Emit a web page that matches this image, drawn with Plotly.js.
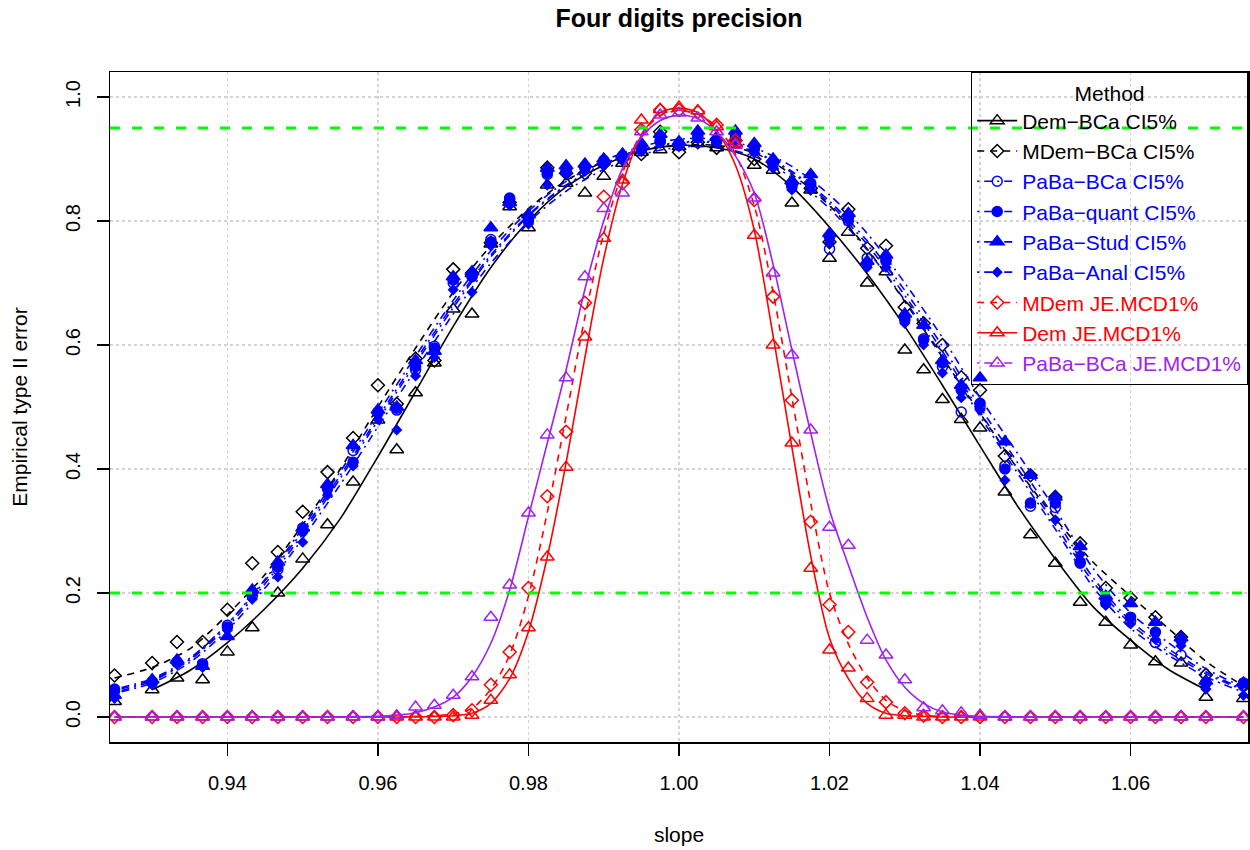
<!DOCTYPE html>
<html>
<head>
<meta charset="utf-8">
<script src="https://cdn.plot.ly/plotly-3.0.1.min.js"></script>
<style>html,body{margin:0;padding:0;background:#fff;}#chart{width:1250px;height:850px;}</style>
</head>
<body>
<div id="chart"></div>
<script>
// ---------- data ----------
const slope = [0.925, 0.93, 0.9333, 0.9367, 0.94, 0.9433, 0.9467, 0.95, 0.9533, 0.9567,
  0.96, 0.9625, 0.965, 0.9675, 0.97, 0.9725, 0.975, 0.9775, 0.98, 0.9825,
  0.985, 0.9875, 0.99, 0.9925, 0.995, 0.9975, 1.0, 1.0025, 1.005, 1.0075,
  1.01, 1.0125, 1.015, 1.0175, 1.02, 1.0225, 1.025, 1.0275, 1.03, 1.0325,
  1.035, 1.0375, 1.04, 1.0433, 1.0467, 1.05, 1.0533, 1.0567, 1.06, 1.0633,
  1.0667, 1.07, 1.075];

const demBCa = [0.025, 0.044, 0.063, 0.060, 0.105, 0.144, 0.200, 0.255, 0.310, 0.379,
  0.479, 0.431, 0.523, 0.571, 0.658, 0.650, 0.763, 0.823, 0.789, 0.858,
  0.861, 0.845, 0.872, 0.893, 0.911, 0.915, 0.920, 0.925, 0.918, 0.925,
  0.890, 0.882, 0.829, 0.850, 0.740, 0.782, 0.700, 0.718, 0.592, 0.560,
  0.512, 0.480, 0.466, 0.363, 0.294, 0.248, 0.185, 0.153, 0.116, 0.089,
  0.087, 0.032, 0.030];

const mdemBCa = [0.067, 0.087, 0.121, 0.121, 0.173, 0.248, 0.266, 0.331, 0.395, 0.450,
  0.535, 0.505, 0.578, 0.575, 0.722, 0.716, 0.765, 0.830, 0.808, 0.886,
  0.877, 0.877, 0.892, 0.900, 0.908, 0.944, 0.911, 0.927, 0.918, 0.930,
  0.900, 0.895, 0.861, 0.853, 0.766, 0.819, 0.756, 0.760, 0.661, 0.635,
  0.600, 0.548, 0.527, 0.421, 0.390, 0.355, 0.280, 0.208, 0.192, 0.161,
  0.129, 0.068, 0.052];

const pabaBCa = [0.042, 0.055, 0.088, 0.086, 0.148, 0.195, 0.238, 0.305, 0.368, 0.430,
  0.490, 0.495, 0.560, 0.598, 0.700, 0.712, 0.770, 0.835, 0.805, 0.875,
  0.880, 0.885, 0.895, 0.905, 0.915, 0.928, 0.922, 0.935, 0.928, 0.935,
  0.915, 0.890, 0.855, 0.858, 0.755, 0.800, 0.740, 0.735, 0.640, 0.610,
  0.565, 0.492, 0.500, 0.405, 0.340, 0.338, 0.250, 0.190, 0.155, 0.120,
  0.100, 0.055, 0.050];

const pabaQuant = [0.045, 0.057, 0.089, 0.084, 0.145, 0.200, 0.242, 0.300, 0.371, 0.411,
  0.492, 0.498, 0.565, 0.595, 0.705, 0.710, 0.766, 0.837, 0.800, 0.877,
  0.882, 0.887, 0.898, 0.903, 0.919, 0.930, 0.925, 0.939, 0.930, 0.939,
  0.919, 0.893, 0.858, 0.861, 0.774, 0.806, 0.732, 0.737, 0.644, 0.608,
  0.571, 0.527, 0.506, 0.400, 0.345, 0.345, 0.248, 0.184, 0.161, 0.137,
  0.124, 0.055, 0.055];

const pabaStud = [0.035, 0.060, 0.092, 0.082, 0.130, 0.205, 0.250, 0.305, 0.375, 0.438,
  0.495, 0.500, 0.575, 0.590, 0.710, 0.718, 0.789, 0.830, 0.810, 0.885,
  0.889, 0.892, 0.900, 0.908, 0.925, 0.940, 0.928, 0.945, 0.935, 0.945,
  0.925, 0.900, 0.865, 0.875, 0.780, 0.812, 0.735, 0.745, 0.650, 0.632,
  0.575, 0.535, 0.547, 0.444, 0.390, 0.355, 0.275, 0.195, 0.183, 0.153,
  0.128, 0.058, 0.055];

const pabaAnal = [0.030, 0.052, 0.085, 0.080, 0.140, 0.190, 0.226, 0.282, 0.358, 0.405,
  0.480, 0.463, 0.550, 0.580, 0.689, 0.685, 0.760, 0.825, 0.795, 0.858,
  0.875, 0.880, 0.890, 0.898, 0.912, 0.925, 0.920, 0.932, 0.925, 0.930,
  0.910, 0.885, 0.850, 0.850, 0.765, 0.800, 0.725, 0.725, 0.635, 0.600,
  0.555, 0.515, 0.495, 0.382, 0.345, 0.318, 0.262, 0.180, 0.150, 0.125,
  0.115, 0.045, 0.035];

const mdemJE = [0, 0, 0, 0, 0, 0, 0, 0, 0, 0,
  0, 0, 0, 0, 0.003, 0.011, 0.052, 0.105, 0.208, 0.356,
  0.460, 0.668, 0.839, 0.861, 0.947, 0.979, 0.979, 0.976, 0.955, 0.930,
  0.834, 0.678, 0.511, 0.315, 0.181, 0.137, 0.056, 0.024, 0.006, 0.002,
  0, 0, 0, 0, 0, 0, 0, 0, 0, 0,
  0, 0, 0];

const demJE = [0, 0, 0, 0, 0, 0, 0, 0, 0, 0,
  0, 0, 0, 0, 0, 0.003, 0.027, 0.068, 0.144, 0.258,
  0.403, 0.613, 0.772, 0.866, 0.963, 0.980, 0.984, 0.978, 0.952, 0.925,
  0.777, 0.600, 0.442, 0.240, 0.108, 0.079, 0.030, 0.003, 0.003, 0,
  0, 0, 0, 0, 0, 0, 0, 0, 0, 0,
  0, 0, 0];

const pabaJE = [0, 0, 0, 0, 0, 0, 0, 0, 0, 0,
  0, 0.002, 0.016, 0.019, 0.035, 0.065, 0.161, 0.213, 0.329, 0.455,
  0.547, 0.710, 0.820, 0.845, 0.944, 0.971, 0.974, 0.966, 0.944, 0.922,
  0.837, 0.716, 0.584, 0.463, 0.306, 0.277, 0.124, 0.100, 0.060, 0.015,
  0.010, 0.007, 0.003, 0, 0, 0, 0, 0, 0, 0,
  0, 0, 0];

// fitted (smooth) curves
const fitX = [0.925, 0.93, 0.935, 0.94, 0.945, 0.95, 0.955, 0.96, 0.965, 0.97,
  0.975, 0.98, 0.985, 0.99, 0.995, 1.0, 1.005, 1.01, 1.015, 1.02,
  1.025, 1.03, 1.035, 1.04, 1.045, 1.05, 1.055, 1.06, 1.065, 1.07, 1.075];
const demBCaFit = [null, 0.044, 0.075, 0.12, 0.175, 0.24, 0.32, 0.42, 0.525, 0.63,
  0.725, 0.80, 0.855, 0.89, 0.913, 0.922, 0.918, 0.90, 0.855, 0.79,
  0.715, 0.63, 0.535, 0.437, 0.34, 0.255, 0.178, 0.124, 0.077, 0.044, null];
const mdemBCaFit = [0.063, 0.08, 0.11, 0.165, 0.23, 0.31, 0.40, 0.50, 0.595, 0.685,
  0.76, 0.82, 0.865, 0.895, 0.915, 0.922, 0.922, 0.91, 0.875, 0.825,
  0.755, 0.67, 0.58, 0.49, 0.40, 0.32, 0.25, 0.195, 0.143, 0.09, 0.05];
const pabaBCaFit = [0.045, 0.062, 0.095, 0.15, 0.22, 0.30, 0.39, 0.483, 0.575, 0.665,
  0.745, 0.81, 0.858, 0.892, 0.915, 0.927, 0.927, 0.912, 0.88, 0.832,
  0.768, 0.688, 0.598, 0.50, 0.41, 0.32, 0.225, 0.155, 0.11, 0.073, 0.045];
const pabaQuantFit = [0.043, 0.06, 0.092, 0.146, 0.215, 0.295, 0.385, 0.478, 0.57, 0.66,
  0.742, 0.808, 0.857, 0.891, 0.914, 0.926, 0.926, 0.911, 0.878, 0.828,
  0.762, 0.68, 0.59, 0.492, 0.40, 0.31, 0.218, 0.15, 0.105, 0.07, 0.043];
const pabaStudFit = [0.04, 0.058, 0.093, 0.15, 0.222, 0.305, 0.396, 0.49, 0.582, 0.672,
  0.752, 0.816, 0.864, 0.897, 0.92, 0.932, 0.932, 0.918, 0.888, 0.842,
  0.78, 0.70, 0.612, 0.515, 0.425, 0.335, 0.24, 0.168, 0.12, 0.078, 0.048];
const pabaAnalFit = [0.038, 0.055, 0.088, 0.14, 0.208, 0.288, 0.375, 0.468, 0.56, 0.65,
  0.732, 0.798, 0.848, 0.883, 0.907, 0.919, 0.919, 0.904, 0.87, 0.82,
  0.753, 0.672, 0.582, 0.485, 0.393, 0.303, 0.21, 0.143, 0.1, 0.065, 0.04];

const jeFitX = [0.925, 0.95, 0.96, 0.9625, 0.965, 0.9675, 0.97, 0.9725, 0.975, 0.9775,
  0.98, 0.9825, 0.985, 0.9875, 0.99, 0.9925, 0.995, 0.9975, 1.0, 1.0025,
  1.005, 1.0075, 1.01, 1.0125, 1.015, 1.0175, 1.02, 1.0225, 1.025, 1.0275,
  1.03, 1.0325, 1.035, 1.0375, 1.04, 1.05, 1.075];
const mdemJEFit = [0, 0, 0, 0, 0.001, 0.002, 0.005, 0.014, 0.045, 0.1,
  0.195, 0.33, 0.485, 0.645, 0.78, 0.878, 0.94, 0.97, 0.978, 0.972,
  0.952, 0.908, 0.825, 0.685, 0.515, 0.345, 0.2, 0.118, 0.063, 0.027,
  0.01, 0.003, 0.001, 0, 0, 0, 0];
const demJEFit = [0, 0, 0, 0, 0, 0.001, 0.002, 0.006, 0.022, 0.062,
  0.138, 0.258, 0.41, 0.58, 0.74, 0.86, 0.938, 0.975, 0.982, 0.975,
  0.945, 0.89, 0.785, 0.615, 0.435, 0.26, 0.127, 0.062, 0.022, 0.006,
  0.002, 0.001, 0, 0, 0, 0, 0];
const pabaJEFit = [0, 0, 0.001, 0.003, 0.007, 0.016, 0.032, 0.065, 0.119, 0.205,
  0.323, 0.442, 0.56, 0.69, 0.80, 0.885, 0.935, 0.962, 0.971, 0.965,
  0.944, 0.905, 0.845, 0.73, 0.592, 0.458, 0.334, 0.245, 0.161, 0.092,
  0.048, 0.022, 0.008, 0.003, 0.001, 0, 0];

const refLines = [0.95, 0.2];
const xTickVals = [0.94, 0.96, 0.98, 1.00, 1.02, 1.04, 1.06];
const xTickText = ['0.94', '0.96', '0.98', '1.00', '1.02', '1.04', '1.06'];
const yTickVals = [0, 0.2, 0.4, 0.6, 0.8, 1.0];
const yTickText = ['0.0', '0.2', '0.4', '0.6', '0.8', '1.0'];

const methodNames = ['Dem\u2212BCa CI5%', 'MDem\u2212BCa CI5%', 'PaBa\u2212BCa CI5%', 'PaBa\u2212quant CI5%',
  'PaBa\u2212Stud CI5%', 'PaBa\u2212Anal CI5%', 'MDem JE.MCD1%', 'Dem JE.MCD1%', 'PaBa\u2212BCa JE.MCD1%'];

// ---------- styles ----------
const FONT = 'Liberation Sans, Arial, Helvetica, sans-serif';
const BLACK = '#000000', BLUE = '#0000FF', RED = '#FF0000', PURPLE = '#A020F0', GREEN = '#00FF00';
const DASH = '7px,6px';
const DOTDASH = '2px,5px,8px,5px';

const series = [
  {name: methodNames[0], color: BLACK, pts: demBCa, fx: fitX, fy: demBCaFit, dash: 'solid', legDash: 'solid', sym: 'triangle-up-open', size: 12},
  {name: methodNames[1], color: BLACK, pts: mdemBCa, fx: fitX, fy: mdemBCaFit, dash: DASH, legDash: DASH, sym: 'diamond-open', size: 10},
  {name: methodNames[2], color: BLUE, pts: pabaBCa, fx: fitX, fy: pabaBCaFit, dash: DOTDASH, legDash: DOTDASH, sym: 'circle-open', size: 10},
  {name: methodNames[3], color: BLUE, pts: pabaQuant, fx: fitX, fy: pabaQuantFit, dash: DOTDASH, legDash: DOTDASH, sym: 'circle', size: 10},
  {name: methodNames[4], color: BLUE, pts: pabaStud, fx: fitX, fy: pabaStudFit, dash: DOTDASH, legDash: DOTDASH, sym: 'triangle-up', size: 12},
  {name: methodNames[5], color: BLUE, pts: pabaAnal, fx: fitX, fy: pabaAnalFit, dash: DOTDASH, legDash: DOTDASH, sym: 'diamond', size: 7},
  {name: methodNames[6], color: RED, pts: mdemJE, fx: jeFitX, fy: mdemJEFit, dash: DASH, legDash: DASH, sym: 'diamond-open', size: 10},
  {name: methodNames[7], color: RED, pts: demJE, fx: jeFitX, fy: demJEFit, dash: 'solid', legDash: 'solid', sym: 'triangle-up-open', size: 12},
  {name: methodNames[8], color: PURPLE, pts: pabaJE, fx: jeFitX, fy: pabaJEFit, dash: 'solid', legDash: DOTDASH, sym: 'triangle-up-open', size: 12}
];

const traces = [];
series.forEach(s => {
  traces.push({
    x: s.fx, y: s.fy, type: 'scatter', mode: 'lines', showlegend: false, hoverinfo: 'skip',
    line: {color: s.color, width: 1.6, dash: s.dash, shape: 'spline', smoothing: 0.8},
    cliponaxis: true
  });
  traces.push({
    x: slope, y: s.pts, type: 'scatter', mode: 'markers', showlegend: false,
    marker: {symbol: s.sym, size: s.size, color: s.color, line: {color: s.color, width: 1.5}},
    cliponaxis: true
  });
});
// legend entries (line + symbol, like the R legend)
series.forEach(s => {
  traces.push({
    x: [null], y: [null], type: 'scatter', mode: 'lines+markers',
    name: '<span style="color:' + s.color + '">' + s.name + '</span>',
    line: {color: s.color, width: 1.6, dash: s.legDash},
    marker: {symbol: s.sym, size: s.size, color: s.color, line: {color: s.color, width: 1.5}}
  });
});

const shapes = refLines.map(v => ({
  type: 'line', xref: 'paper', x0: 0, x1: 1, yref: 'y', y0: v, y1: v,
  line: {color: GREEN, width: 3, dash: '10px,12px'}, layer: 'above'
}));

const layout = {
  width: 1250, height: 850,
  margin: {l: 110, r: 2, t: 72, b: 108, pad: 0},
  paper_bgcolor: '#ffffff', plot_bgcolor: '#ffffff',
  font: {family: FONT, size: 21, color: '#000'},
  title: {text: '<b>Four digits precision</b>', font: {family: FONT, size: 25, color: '#000'},
          x: 0.5, xref: 'paper', xanchor: 'center', y: 1 - 18 / 850, yref: 'container', yanchor: 'middle'},
  showlegend: true,
  legend: {
    x: 1, xanchor: 'right', y: 1, yanchor: 'top',
    bgcolor: 'rgba(0,0,0,0)', bordercolor: '#000', borderwidth: 1.2,
    font: {family: FONT, size: 21, color: '#000'},
    title: {text: 'Method', side: 'top center', font: {family: FONT, size: 21, color: '#000'}},
    tracegroupgap: 0, itemwidth: 40, traceorder: 'normal'
  },
  xaxis: {
    range: [0.9244, 1.0756], tickmode: 'array', tickvals: xTickVals, ticktext: xTickText,
    ticks: 'outside', ticklen: 12, tickwidth: 1.5, tickcolor: '#000',
    showline: true, linecolor: '#000', linewidth: 1.5, mirror: true,
    showgrid: true, gridcolor: '#D3D3D3', griddash: 'dot', gridwidth: 1.2, zeroline: false,
    tickfont: {family: FONT, size: 20, color: '#000'}, ticklabelstandoff: 10,
    title: {text: 'slope', font: {family: FONT, size: 21, color: '#000'}, standoff: 35}
  },
  yaxis: {
    range: [-0.0403, 1.0403], tickmode: 'array', tickvals: yTickVals, ticktext: yTickText,
    ticks: 'outside', ticklen: 12, tickwidth: 1.5, tickcolor: '#000', tickangle: -90,
    showline: true, linecolor: '#000', linewidth: 1.5, mirror: true,
    showgrid: true, gridcolor: '#D3D3D3', griddash: 'dot', gridwidth: 1.2, zeroline: false,
    tickfont: {family: FONT, size: 20, color: '#000'}, ticklabelstandoff: 9,
    title: {text: 'Empirical type II error', font: {family: FONT, size: 21, color: '#000'}, standoff: 28}
  },
  shapes: shapes
};

Plotly.newPlot('chart', traces, layout, {displayModeBar: false, staticPlot: true});
</script>
</body>
</html>
